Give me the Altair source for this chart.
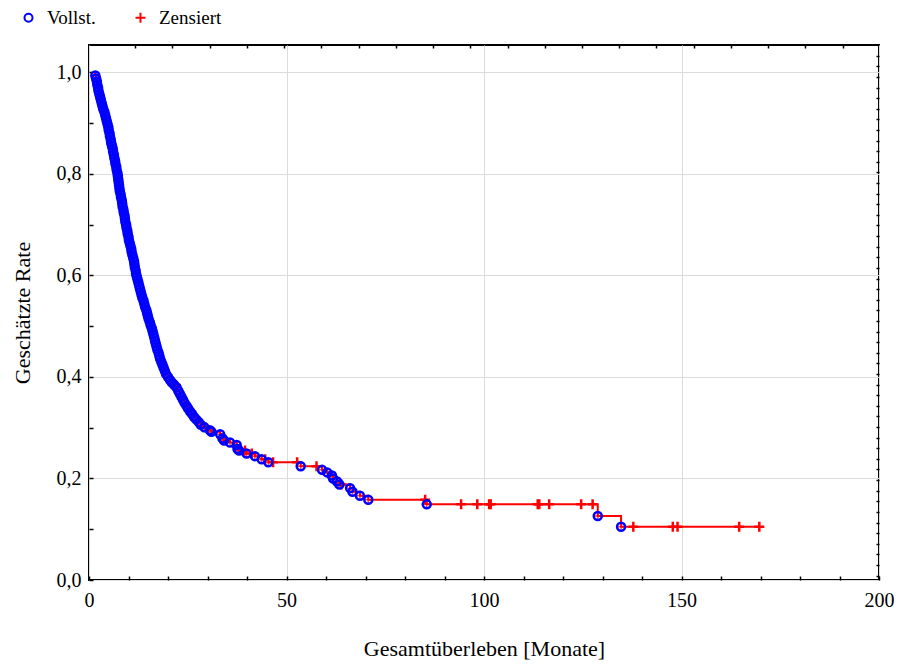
import altair as alt
import pandas as pd

# Kaplan-Meier events (time in months, estimated survival)
events = [
    (1.6, 0.994), (1.8, 0.988), (2.0, 0.982), (2.1, 0.976), (2.3, 0.970), (2.4, 0.964),
    (2.6, 0.958), (2.8, 0.952), (3.0, 0.946), (3.2, 0.940), (3.4, 0.934), (3.6, 0.928),
    (3.9, 0.922), (4.1, 0.916), (4.3, 0.910), (4.5, 0.904), (4.7, 0.898), (4.9, 0.892),
    (5.0, 0.886), (5.2, 0.880), (5.3, 0.874), (5.5, 0.868), (5.6, 0.862), (5.8, 0.856),
    (6.0, 0.850), (6.1, 0.844), (6.3, 0.838), (6.4, 0.832), (6.6, 0.826), (6.7, 0.820),
    (6.9, 0.814), (7.0, 0.808), (7.2, 0.802), (7.3, 0.796), (7.4, 0.790), (7.5, 0.784),
    (7.6, 0.778), (7.7, 0.772), (7.8, 0.766), (8.0, 0.760), (8.1, 0.754), (8.3, 0.748),
    (8.4, 0.742), (8.5, 0.736), (8.7, 0.730), (8.8, 0.724), (9.0, 0.718), (9.1, 0.712),
    (9.2, 0.706), (9.4, 0.700), (9.5, 0.694), (9.7, 0.688), (9.8, 0.682), (10.0, 0.676),
    (10.1, 0.670), (10.3, 0.664), (10.5, 0.658), (10.7, 0.652), (10.8, 0.646), (11.0, 0.640),
    (11.2, 0.634), (11.4, 0.628), (11.5, 0.622), (11.6, 0.616), (11.8, 0.610), (11.9, 0.604),
    (12.1, 0.598), (12.3, 0.592), (12.5, 0.586), (12.7, 0.580), (12.9, 0.574), (13.1, 0.568),
    (13.3, 0.562), (13.5, 0.556), (13.8, 0.550), (14.0, 0.544), (14.2, 0.538), (14.5, 0.532),
    (14.7, 0.526), (14.9, 0.520), (15.1, 0.514), (15.4, 0.508), (15.6, 0.502), (15.9, 0.496),
    (16.1, 0.490), (16.3, 0.484), (16.5, 0.478), (16.7, 0.472), (16.9, 0.466), (17.1, 0.460),
    (17.3, 0.454), (17.6, 0.448), (17.8, 0.442), (18.0, 0.436), (18.3, 0.430), (18.6, 0.424),
    (18.9, 0.418), (19.2, 0.412), (19.5, 0.406), (20.0, 0.400), (20.5, 0.394), (21.0, 0.389),
    (21.6, 0.384), (22.2, 0.379), (22.6, 0.373), (23.0, 0.367), (23.4, 0.361), (23.8, 0.355),
    (24.2, 0.349), (24.7, 0.343), (25.1, 0.338), (25.6, 0.332), (26.1, 0.327), (26.6, 0.321),
    (27.2, 0.316), (27.8, 0.311), (28.3, 0.306), (29.2, 0.301), (30.6, 0.295), (31.0, 0.292),
    (33.2, 0.287), (33.8, 0.279), (34.2, 0.275), (35.7, 0.271), (37.4, 0.266), (37.6, 0.258),
    (38.0, 0.255), (39.9, 0.249), (42.0, 0.244), (43.7, 0.238), (45.4, 0.232), (53.6, 0.224),
    (59.0, 0.217), (60.3, 0.212), (61.5, 0.206), (61.8, 0.200), (62.8, 0.194), (63.4, 0.188),
    (66.1, 0.181), (66.7, 0.174), (68.6, 0.166), (70.7, 0.158), (85.5, 0.149), (128.8, 0.126),
    (134.7, 0.105),
]

# Censored observations (time, survival level at that time)
censored = [
    (22.0, 0.384), (29.5, 0.301), (39.5, 0.255), (41.2, 0.249), (44.6, 0.238),
    (46.6, 0.232), (52.7, 0.232), (57.6, 0.224), (63.9, 0.188), (85.1, 0.158),
    (94.2, 0.149), (98.3, 0.149), (101.3, 0.149), (101.7, 0.149), (113.6, 0.149),
    (114.0, 0.149), (116.5, 0.149), (124.6, 0.149), (127.5, 0.149),
    (137.8, 0.105), (147.8, 0.105), (149.0, 0.105), (164.6, 0.105), (169.7, 0.105),
]

curve_start = (1.2, 1.0)
curve_end = (169.7, 0.105)

legend_labels = ["Vollst.", "Zensiert"]
x_ticks = list(range(0, 201, 10))
y_ticks = [i / 10 for i in range(11)]
top_ticks = [11.65 + 9.43 * k for k in range(20) if 11.65 + 9.43 * k < 200]
right_ticks = [0.0505 + 0.0209 * k for k in range(-2, 49) if 0.005 < 0.0505 + 0.0209 * k < 1.05]

FONT = "Liberation Serif"
BLUE = "#0000ff"
RED = "#ff0000"
PLUS = "M-1,0H1M0,-1V1"

line_df = pd.DataFrame(
    [curve_start] + events + censored + [curve_end], columns=["t", "s"]
).sort_values(["t", "s"], ascending=[True, False])

ev_df = pd.DataFrame(events, columns=["t", "s"])
pts_df = pd.concat([
    pd.DataFrame(censored, columns=["t", "s"]).assign(typ="Zensiert", ord=0),
    pd.DataFrame(events, columns=["t", "s"]).assign(typ="Vollst.", ord=1),
])

xs = alt.Scale(domain=[0, 200], nice=False, zero=False)
ys = alt.Scale(domain=[0, 1.054], nice=False, zero=False)

x_bottom = alt.Axis(
    values=x_ticks, orient="bottom", offset=-4, tickSize=4, labelPadding=10,
    labelFlush=False, labelOverlap=False,
    labelExpr="datum.value % 50 == 0 ? datum.label : ''",
    gridOpacity={"condition": {"test": "datum.value % 50 == 0", "value": 1}, "value": 0},
    title="Gesamtüberleben [Monate]", titleX=395, titleY=72, titleBaseline="middle",
    titleAlign="center",
)
y_left = alt.Axis(
    values=y_ticks, orient="left", offset=-4, tickSize=4, labelPadding=8,
    labelFlush=False, labelOverlap=False,
    labelExpr="round(datum.value*10) % 2 == 0 ? replace(format(datum.value, '.1f'), '.', ',') : ''",
    gridOpacity={"condition": {"test": "round(datum.value*10) % 2 == 0", "value": 1}, "value": 0},
    title="Geschätzte Rate", titleX=-71, titleY=267.5, titleBaseline="middle",
    titleAlign="center", titleAngle=-90,
)
x_top = alt.Axis(values=top_ticks, orient="top", offset=-3, tickSize=3, labels=False,
                 grid=False, title=None)
y_right = alt.Axis(values=right_ticks, orient="right", offset=-3, tickSize=3, labels=False,
                   grid=False, title=None)

legend_spec = dict(orient="none", legendX=-70, legendY=-37, direction="horizontal",
                   title=None, labelFont=FONT, labelFontSize=19, labelColor="black",
                   columnPadding=35, labelOffset=9, symbolStrokeWidth=2, padding=0)

line = alt.Chart(line_df).mark_line(interpolate="step-after", color=RED, strokeWidth=2).encode(
    x=alt.X("t:Q", scale=xs, axis=x_bottom),
    y=alt.Y("s:Q", scale=ys, axis=y_left),
    order="t:Q",
)

ev_cross = alt.Chart(ev_df).mark_point(shape=PLUS, filled=False, color=RED, size=40,
                                       strokeWidth=1.5).encode(
    x=alt.X("t:Q", scale=xs, axis=None),
    y=alt.Y("s:Q", scale=ys, axis=None),
)

pts = alt.Chart(pts_df).mark_point(filled=False, strokeWidth=2.5, opacity=1).encode(
    x=alt.X("t:Q", scale=xs, axis=x_top),
    y=alt.Y("s:Q", scale=ys, axis=y_right),
    color=alt.Color("typ:N", scale=alt.Scale(domain=legend_labels, range=[BLUE, RED]),
                    title=None, legend=alt.Legend(**legend_spec)),
    shape=alt.Shape("typ:N", scale=alt.Scale(domain=legend_labels, range=["circle", PLUS]),
                    title=None, legend=alt.Legend(**legend_spec)),
    size=alt.Size("typ:N", scale=alt.Scale(domain=legend_labels, range=[64, 100]),
                  title=None, legend=alt.Legend(**legend_spec)),
    order="ord:Q",
)

chart = alt.layer(line, ev_cross, pts).resolve_axis(x="independent", y="independent").properties(
    width=790, height=535,
    autosize=alt.AutoSizeParams(type="none"),
    padding={"left": 89, "top": 45, "right": 22, "bottom": 84},
).configure(
    style={"guide-label": {"font": FONT}},
).configure_view(stroke="black", strokeWidth=2).configure_axis(
    domain=False, tickColor="black", tickWidth=1.5, labelFont=FONT, labelFontSize=20,
    labelColor="black", titleFont=FONT, titleFontSize=22, titleFontWeight="normal",
    titleColor="black", gridColor="#dcdcdc", gridWidth=1,
).configure_legend(
    labelFont=FONT, labelFontSize=19, labelColor="black", symbolStrokeWidth=2,
    padding=0,
)

chart.save("out.html", embed_options={"renderer": "svg", "actions": False})
